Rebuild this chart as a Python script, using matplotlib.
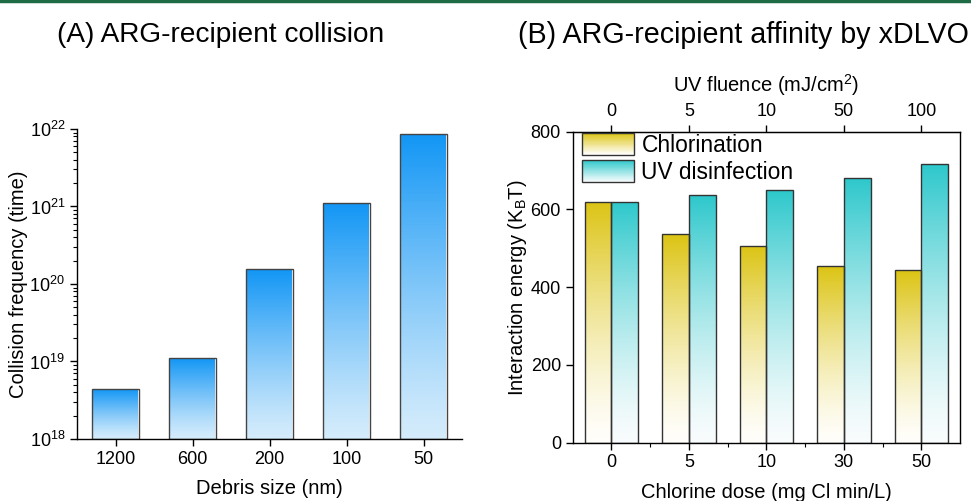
import numpy as np
import matplotlib
matplotlib.use("Agg")
import matplotlib.pyplot as plt
from matplotlib.colors import LinearSegmentedColormap
from matplotlib.transforms import blended_transform_factory
from matplotlib.ticker import LogLocator, FixedLocator, MultipleLocator
from matplotlib.patches import Rectangle
from matplotlib.legend_handler import HandlerBase

plt.rcParams['font.family'] = ['Liberation Sans', 'DejaVu Sans']
plt.rcParams['mathtext.fontset'] = 'custom'
plt.rcParams['mathtext.rm'] = 'Liberation Sans'
plt.rcParams['mathtext.it'] = 'Liberation Sans:italic'
plt.rcParams['mathtext.bf'] = 'Liberation Sans:bold'

# panel A data
debris_sizes = ['1200', '600', '200', '100', '50']
collision_freq = [4.4e18, 1.11e19, 1.55e20, 1.11e21, 8.6e21]
y_floor = 1e18

# panel B data
chlorine_dose = ['0', '5', '10', '30', '50']
uv_fluence = ['0', '5', '10', '50', '100']
chlorination = [620, 536, 507, 454, 444]
uv_disinfection = [620, 636, 650, 680, 716]

blue_cmap = LinearSegmentedColormap.from_list('bl', ['#d4ecfc', '#1296f5'])
gold_cmap = LinearSegmentedColormap.from_list('gd', ['#fffefa', '#dcc414'])
teal_cmap = LinearSegmentedColormap.from_list('tl', ['#f8fcfd', '#2ec8cc'])


def grad_fill(ax, bars, cmap, power=1.0):
    # gradient image clipped to each bar, x in data, y in axes fraction
    trans = blended_transform_factory(ax.transData, ax.transAxes)
    to_axes = ax.transAxes.inverted()
    for b in bars:
        x0 = b.get_x()
        x1 = x0 + b.get_width()
        y0 = to_axes.transform(ax.transData.transform((x0, b.get_y())))[1]
        y1 = to_axes.transform(ax.transData.transform((x0, b.get_y() + b.get_height())))[1]
        g = np.linspace(1, 0, 256) ** power
        im = ax.imshow(g.reshape(-1, 1), cmap=cmap, vmin=0, vmax=1, aspect='auto',
                       extent=[x0, x1, y0, y1], transform=trans, zorder=1,
                       interpolation='bilinear')
        im.set_clip_path(b)
        b.set_facecolor('none')
        b.set_zorder(2)


class GradHandler(HandlerBase):
    def __init__(self, cmap):
        super().__init__()
        self.cmap = cmap

    def create_artists(self, legend, orig, xd, yd, w, h, fs, trans):
        arts = []
        n = 40
        x0, y0 = -xd, -yd
        for i in range(n):
            c = self.cmap(1 - i / (n - 1))
            r = Rectangle((x0, y0 + h - (i + 1) * h / n), w, h / n + 0.3,
                          facecolor=c, edgecolor='none', transform=trans)
            arts.append(r)
        arts.append(Rectangle((x0, y0), w, h, facecolor='none',
                              edgecolor='#333333', lw=1, transform=trans))
        return arts


fig = plt.figure(figsize=(9.71, 5.01), dpi=100)

# green rule at top
fig.add_artist(plt.Line2D([0, 1], [0.998, 0.998], color='#1e6b45', lw=2.5,
                          transform=fig.transFigure))

# ---- panel A
ax1 = fig.add_axes([0.0793, 0.1238, 0.3965, 0.6188])
xa = np.arange(len(debris_sizes))
heights = [v - y_floor for v in collision_freq]
bars_a = ax1.bar(xa, heights, width=0.6, bottom=y_floor,
                 edgecolor='#444444', linewidth=1)
ax1.set_yscale('log')
ax1.set_ylim(1e18, 1e22)
ax1.set_xlim(-0.5, 4.5)
grad_fill(ax1, bars_a, blue_cmap, power=1.2)
ax1.set_xticks(xa)
ax1.set_xticklabels(debris_sizes)
ax1.yaxis.set_major_locator(LogLocator(base=10, numticks=10))
ax1.yaxis.set_minor_locator(LogLocator(base=10, subs=np.arange(2, 10), numticks=10))
ax1.spines['top'].set_visible(False)
ax1.spines['right'].set_visible(False)
ax1.tick_params(axis='both', which='major', labelsize=13, length=5, width=1)
ax1.tick_params(axis='y', which='minor', length=3, width=0.8)
ax1.set_xlabel('Debris size (nm)', fontsize=14.5, labelpad=8)
ax1.set_ylabel('Collision frequency (time)', fontsize=14.5, labelpad=1)

fig.text(0.227, 0.93, '(A) ARG-recipient collision', fontsize=20.2,
         ha='center', va='center')

# ---- panel B
ax2 = fig.add_axes([0.5898, 0.1164, 0.3989, 0.6207])
xb = np.arange(len(chlorine_dose))
w = 0.345
bars_c = ax2.bar(xb - w / 2, chlorination, width=w, edgecolor='#333333',
                 linewidth=1, label='Chlorination')
bars_u = ax2.bar(xb + w / 2, uv_disinfection, width=w, edgecolor='#333333',
                 linewidth=1, label='UV disinfection')
ax2.set_ylim(0, 800)
ax2.set_xlim(-0.5, 4.5)
grad_fill(ax2, bars_c, gold_cmap, power=1.4)
grad_fill(ax2, bars_u, teal_cmap, power=1.4)
ax2.set_xticks(xb)
ax2.set_xticklabels(chlorine_dose)
ax2.xaxis.set_minor_locator(FixedLocator(xb[:-1] + 0.5))
ax2.yaxis.set_major_locator(MultipleLocator(200))
ax2.tick_params(axis='both', which='major', labelsize=13, length=5, width=1)
ax2.tick_params(axis='x', which='minor', length=3, width=0.8)
ax2.set_xlabel('Chlorine dose (mg Cl min/L)', fontsize=14.5, labelpad=8)
ax2.set_ylabel('Interaction energy (K$_\\mathregular{B}$T)', fontsize=14.5, labelpad=1)

top = ax2.secondary_xaxis('top')
top.set_xticks(xb)
top.set_xticklabels(uv_fluence)
top.tick_params(labelsize=13, length=5, width=1)
top.set_xlabel('UV fluence (mJ/cm$^\\mathregular{2}$)', fontsize=14.5, labelpad=8)

ax2.legend(handles=[bars_c, bars_u], labels=['Chlorination', 'UV disinfection'],
           handler_map={bars_c: GradHandler(gold_cmap), bars_u: GradHandler(teal_cmap)},
           loc='upper left', bbox_to_anchor=(0.0, 1.025), fontsize=16.4,
           frameon=False, handlelength=2.3, handleheight=1.1, handletextpad=0.32,
           labelspacing=0.16, borderaxespad=0.2, borderpad=0.2)

fig.text(0.766, 0.93, '(B) ARG-recipient affinity by xDLVO', fontsize=20.6,
         ha='center', va='center')

for ax in (ax1, ax2):
    for s in ax.spines.values():
        s.set_linewidth(1)

fig.savefig('out.png', dpi=100)
